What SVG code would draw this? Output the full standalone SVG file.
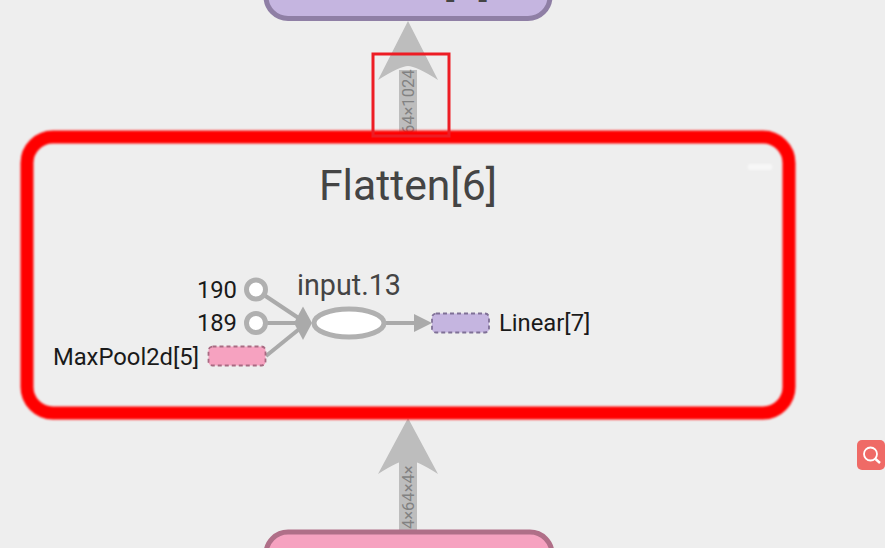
<svg xmlns="http://www.w3.org/2000/svg" width="885" height="548" viewBox="0 0 885 548">
<style>
text{font-family:Roboto,"Liberation Sans",sans-serif}
.lbl{font-size:23.800px;fill:#1a1a1a}
.title{fill:#444;font-size:42.700px}
.edge{stroke:#aaa;stroke-width:4;fill:none}
.big{fill:#bdbdbd}
.dim{font-size:16.500px;fill:#828282}
.port{fill:#fff;stroke:#b0b0b0;stroke-width:5}
</style>
<defs><filter id="b" x="-5%" y="-5%" width="110%" height="110%"><feGaussianBlur stdDeviation="1"/></filter></defs>
<rect width="885" height="548" fill="#eee"/>
<g id="connectors">
<g id="big-edge-top">
<rect x="399" y="70" width="18" height="64" class="big"/>
<path d="M408 21 L438 80 Q416 66 408 66 Q400 66 378 80 Z" class="big"/>
<text class="dim" transform="translate(414 134) rotate(-90)">64×1024</text>
</g>
<g id="big-edge-bottom">
<rect x="399" y="460" width="18" height="72" class="big"/>
<path d="M408 418 L438 474 Q416 460 408 460 Q400 460 378 474 Z" class="big"/>
<text class="dim" transform="translate(414 529) rotate(-90)">4×64×4×</text>
</g>
<line class="edge" x1="264" y1="295" x2="303" y2="321"/>
<line class="edge" x1="267" y1="323" x2="303" y2="323"/>
<line class="edge" x1="266" y1="356" x2="303" y2="326"/>
<path d="M303 306.500 L312 323 L303 340 L294 323 Z" fill="#aaa"/>
<line class="edge" x1="386" y1="323" x2="416" y2="323"/>
<path d="M414 314 L432 323 L414 332 Z" fill="#aaa"/>
</g>
<g id="node-top"><rect x="266" y="-60" width="284" height="78.500" rx="22" fill="#c5b5e0" stroke="#8f7fa5" stroke-width="5"/><text class="title" x="408" y="-5" text-anchor="middle">Linear[7]</text></g>
<g id="node-bottom"><rect x="266" y="532" width="286" height="79" rx="22" fill="#f6a2c0" stroke="#b06f88" stroke-width="5"/></g>
<g id="flatten">
<rect x="27" y="137" width="762" height="276" rx="26" fill="none" stroke="#f00" stroke-width="13" filter="url(#b)"/>
<text class="title" x="408" y="200" text-anchor="middle">Flatten[6]</text>
<rect x="748" y="164" width="24" height="6" rx="2" fill="#f7f7f7" filter="url(#b)"/>
</g>
<g id="n190"><circle class="port" cx="256" cy="289.500" r="9.500"/><text class="lbl" x="237" y="298" text-anchor="end">190</text></g>
<g id="n189"><circle class="port" cx="256" cy="323" r="9.500"/><text class="lbl" x="237" y="331" text-anchor="end">189</text></g>
<g id="maxpool"><rect x="208.500" y="346.500" width="57" height="19" rx="4" fill="#f6a2c0" stroke="#a86a82" stroke-width="1.800" stroke-dasharray="4 3"/><text class="lbl" x="199" y="365" text-anchor="end">MaxPool2d[5]</text></g>
<g id="input13"><ellipse cx="349" cy="323" rx="35" ry="14" fill="#fff" stroke="#b0b0b0" stroke-width="5"/><text x="349" y="295" font-size="28.700" fill="#444" text-anchor="middle">input.13</text></g>
<g id="linear"><rect x="432" y="313.500" width="57" height="19" rx="4" fill="#c5b5e0" stroke="#7f7096" stroke-width="1.800" stroke-dasharray="4 3"/><text class="lbl" x="499" y="331">Linear[7]</text></g>
<rect id="selection" x="373" y="54" width="76" height="82" fill="none" stroke="#ed1c24" stroke-width="3"/>
<g id="zoom-button"><rect x="857" y="440" width="28" height="30" rx="5" fill="#ef6a66"/><circle cx="870.500" cy="454" r="6.500" fill="none" stroke="#fff" stroke-width="1.800"/><line x1="875.500" y1="459" x2="880" y2="463" stroke="#fff" stroke-width="2.500"/></g>
</svg>
